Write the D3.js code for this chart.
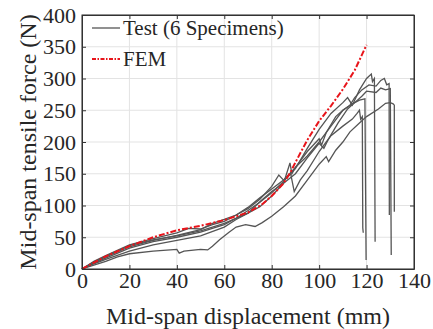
<!DOCTYPE html>
<html>
<head>
<meta charset="utf-8">
<script src="https://cdn.jsdelivr.net/npm/d3@7"></script>
<style>
  body { margin: 0; background: #fff; }
</style>
</head>
<body>
<div id="chart"></div>
<script>
var serif = "'Liberation Serif', 'Times New Roman', Times, serif";

// tick labels
var xTicks = [0, 20, 40, 60, 80, 100, 120, 140];
var yTicks = [0, 50, 100, 150, 200, 250, 300, 350, 400];

// test curves, [displacement mm, force N]
var spec1 = [[0,0],[5,9],[10,17],[20,33],[30,43],[40,50],[50,58],[60,70],[65,80],[70,92],[75,105],[80,120],[85,138],[88,150],[89.5,122],[92,140],[95,155],[100,185],[103,200],[105,210],[110,225],[114,236],[116,245],[117,250],[117.5,236],[118.2,240],[118.4,65],[118.6,57]];
var spec2 = [[0,0],[5,11],[10,20],[20,37],[30,46],[40,52],[50,60],[60,72],[70,88],[75,98],[80,115],[85,135],[87.7,167],[88.5,150],[90,160],[95,185],[100,205],[101,195],[103,215],[107,240],[110,250],[114,260],[117,266],[119.3,268],[119.8,14]];
var spec3 = [[0,0],[5,12],[10,21],[20,38],[30,48],[40,57],[45,64],[50,63],[55,70],[60,75],[65,85],[70,97],[75,112],[80,126],[85,140],[90,158],[95,190],[100,220],[105,245],[110,262],[112,270],[114,258],[117,282],[120,300],[122,307],[122.5,295],[123.3,300],[123.6,43]];
var spec4 = [[0,0],[5,10],[10,19],[20,35],[30,45],[40,53],[50,62],[55,72],[60,78],[65,85],[70,95],[75,110],[80,130],[83,148],[85,140],[90,160],[95,178],[100,200],[105,225],[110,250],[113,258],[115,270],[118,282],[121,290],[124,288],[126,297],[127.5,300],[128.5,290],[129.5,292],[129.6,85]];
var spec5 = [[0,0],[5,8],[10,15],[20,28],[30,38],[40,45],[50,52],[60,66],[65,78],[70,88],[75,106],[80,122],[85,135],[90,150],[95,175],[100,198],[102,190],[104,205],[108,230],[112,252],[115,262],[118,272],[120,280],[124,278],[126,285],[128,282],[130,284],[130.4,22]];
var spec6 = [[0,0],[5,6],[10,12],[15,19],[20,24],[30,28],[40,31],[41,25],[43,28],[50,31],[53,30],[55,36],[58,46],[62,58],[65,66],[69,70],[73,67],[76,73],[80,83],[85,98],[90,115],[95,140],[100,165],[103,177],[104,169],[107,187],[110,200],[113,216],[117,230],[120,240],[125,252],[128,261],[130,262],[131.2,260],[131.7,258],[131.7,90]];
var tests = [spec1, spec2, spec3, spec4, spec5, spec6];

// FEM curve
var fem = [[0,0],[5,10],[10,20],[20,36],[30,50],[40,61],[50,68],[60,77],[70,89],[76,102],[80,115],[85,135],[88,153],[90,168],[95,203],[100,233],[105,257],[110,283],[115,313],[120,353]];

var margin = {top: 15, right: 19, bottom: 60, left: 82},
    width = 433 - margin.left - margin.right,
    height = 329 - margin.top - margin.bottom;

var svg = d3.select("#chart")
  .append("svg")
    .attr("width", 433)
    .attr("height", 329)
  .append("g")
    .attr("transform", "translate(" + margin.left + "," + margin.top + ")");

var x = d3.scaleLinear().domain([0, 140]).range([0, width]);
var y = d3.scaleLinear().domain([0, 400]).range([height, 0]);

// grid
svg.append("g").selectAll("line")
  .data(xTicks).enter().append("line")
    .attr("x1", function(d) { return x(d); })
    .attr("x2", function(d) { return x(d); })
    .attr("y1", 0).attr("y2", height)
    .attr("stroke", "#e3e3e3").attr("stroke-width", 1);
svg.append("g").selectAll("line")
  .data(yTicks).enter().append("line")
    .attr("y1", function(d) { return y(d); })
    .attr("y2", function(d) { return y(d); })
    .attr("x1", 0).attr("x2", width)
    .attr("stroke", "#e3e3e3").attr("stroke-width", 1);

var line = d3.line()
  .x(function(d) { return x(d[0]); })
  .y(function(d) { return y(d[1]); });

// test curves
svg.append("g").selectAll("path")
  .data(tests).enter().append("path")
    .attr("d", line)
    .attr("fill", "none")
    .attr("stroke", "#555")
    .attr("stroke-width", 1.3);

// FEM
svg.append("path")
  .datum(fem)
  .attr("d", line)
  .attr("fill", "none")
  .attr("stroke", "#e8141a")
  .attr("stroke-width", 2)
  .attr("stroke-dasharray", "6,2,2,2");

// axes, ticks inside like matlab
svg.append("g")
  .attr("transform", "translate(0," + height + ")")
  .call(d3.axisBottom(x).tickValues(xTicks).tickSize(-4).tickPadding(3).tickSizeOuter(0));
svg.append("g")
  .call(d3.axisLeft(y).tickValues(yTicks).tickSize(-4).tickPadding(6).tickSizeOuter(0));
svg.append("g")
  .call(d3.axisTop(x).tickValues(xTicks).tickSize(-4).tickFormat("").tickSizeOuter(0));
svg.append("g")
  .attr("transform", "translate(" + width + ",0)")
  .call(d3.axisRight(y).tickValues(yTicks).tickSize(-4).tickFormat("").tickSizeOuter(0));

svg.selectAll(".domain").attr("stroke", "#333");
svg.selectAll(".tick line").attr("stroke", "#333");
svg.selectAll(".tick text")
  .style("font-family", serif)
  .style("font-size", "22px")
  .attr("fill", "#262626");
svg.append("rect")
  .attr("width", width).attr("height", height)
  .attr("fill", "none").attr("stroke", "#333").attr("stroke-width", 1);

// axis titles
svg.append("text")
  .attr("x", width / 2)
  .attr("y", height + 55)
  .attr("text-anchor", "middle")
  .attr("fill", "#262626")
  .style("font-family", serif)
  .style("font-size", "24px")
  .text("Mid-span displacement (mm)");
svg.append("text")
  .attr("transform", "rotate(-90)")
  .attr("x", -height / 2)
  .attr("y", -46)
  .attr("text-anchor", "middle")
  .attr("fill", "#262626")
  .style("font-family", serif)
  .style("font-size", "24px")
  .text("Mid-span tensile force (N)");

// legend
var legend = [
  {name: "Test (6 Specimens)", color: "#555", dash: null, w: 1.3},
  {name: "FEM", color: "#e8141a", dash: "4,1.5,1.5,1.5", w: 2}
];
var lg = svg.selectAll(".leg").data(legend).enter().append("g")
  .attr("transform", function(d, i) { return "translate(10," + (13 + i * 31) + ")"; });
lg.append("line")
  .attr("x1", 0).attr("x2", 28)
  .attr("stroke", function(d) { return d.color; })
  .attr("stroke-width", function(d) { return d.w; })
  .attr("stroke-dasharray", function(d) { return d.dash; });
lg.append("text")
  .attr("x", 31).attr("dy", "0.35em")
  .attr("fill", "#262626")
  .style("font-family", serif)
  .style("font-size", "21px")
  .text(function(d) { return d.name; });
</script>
</body>
</html>
